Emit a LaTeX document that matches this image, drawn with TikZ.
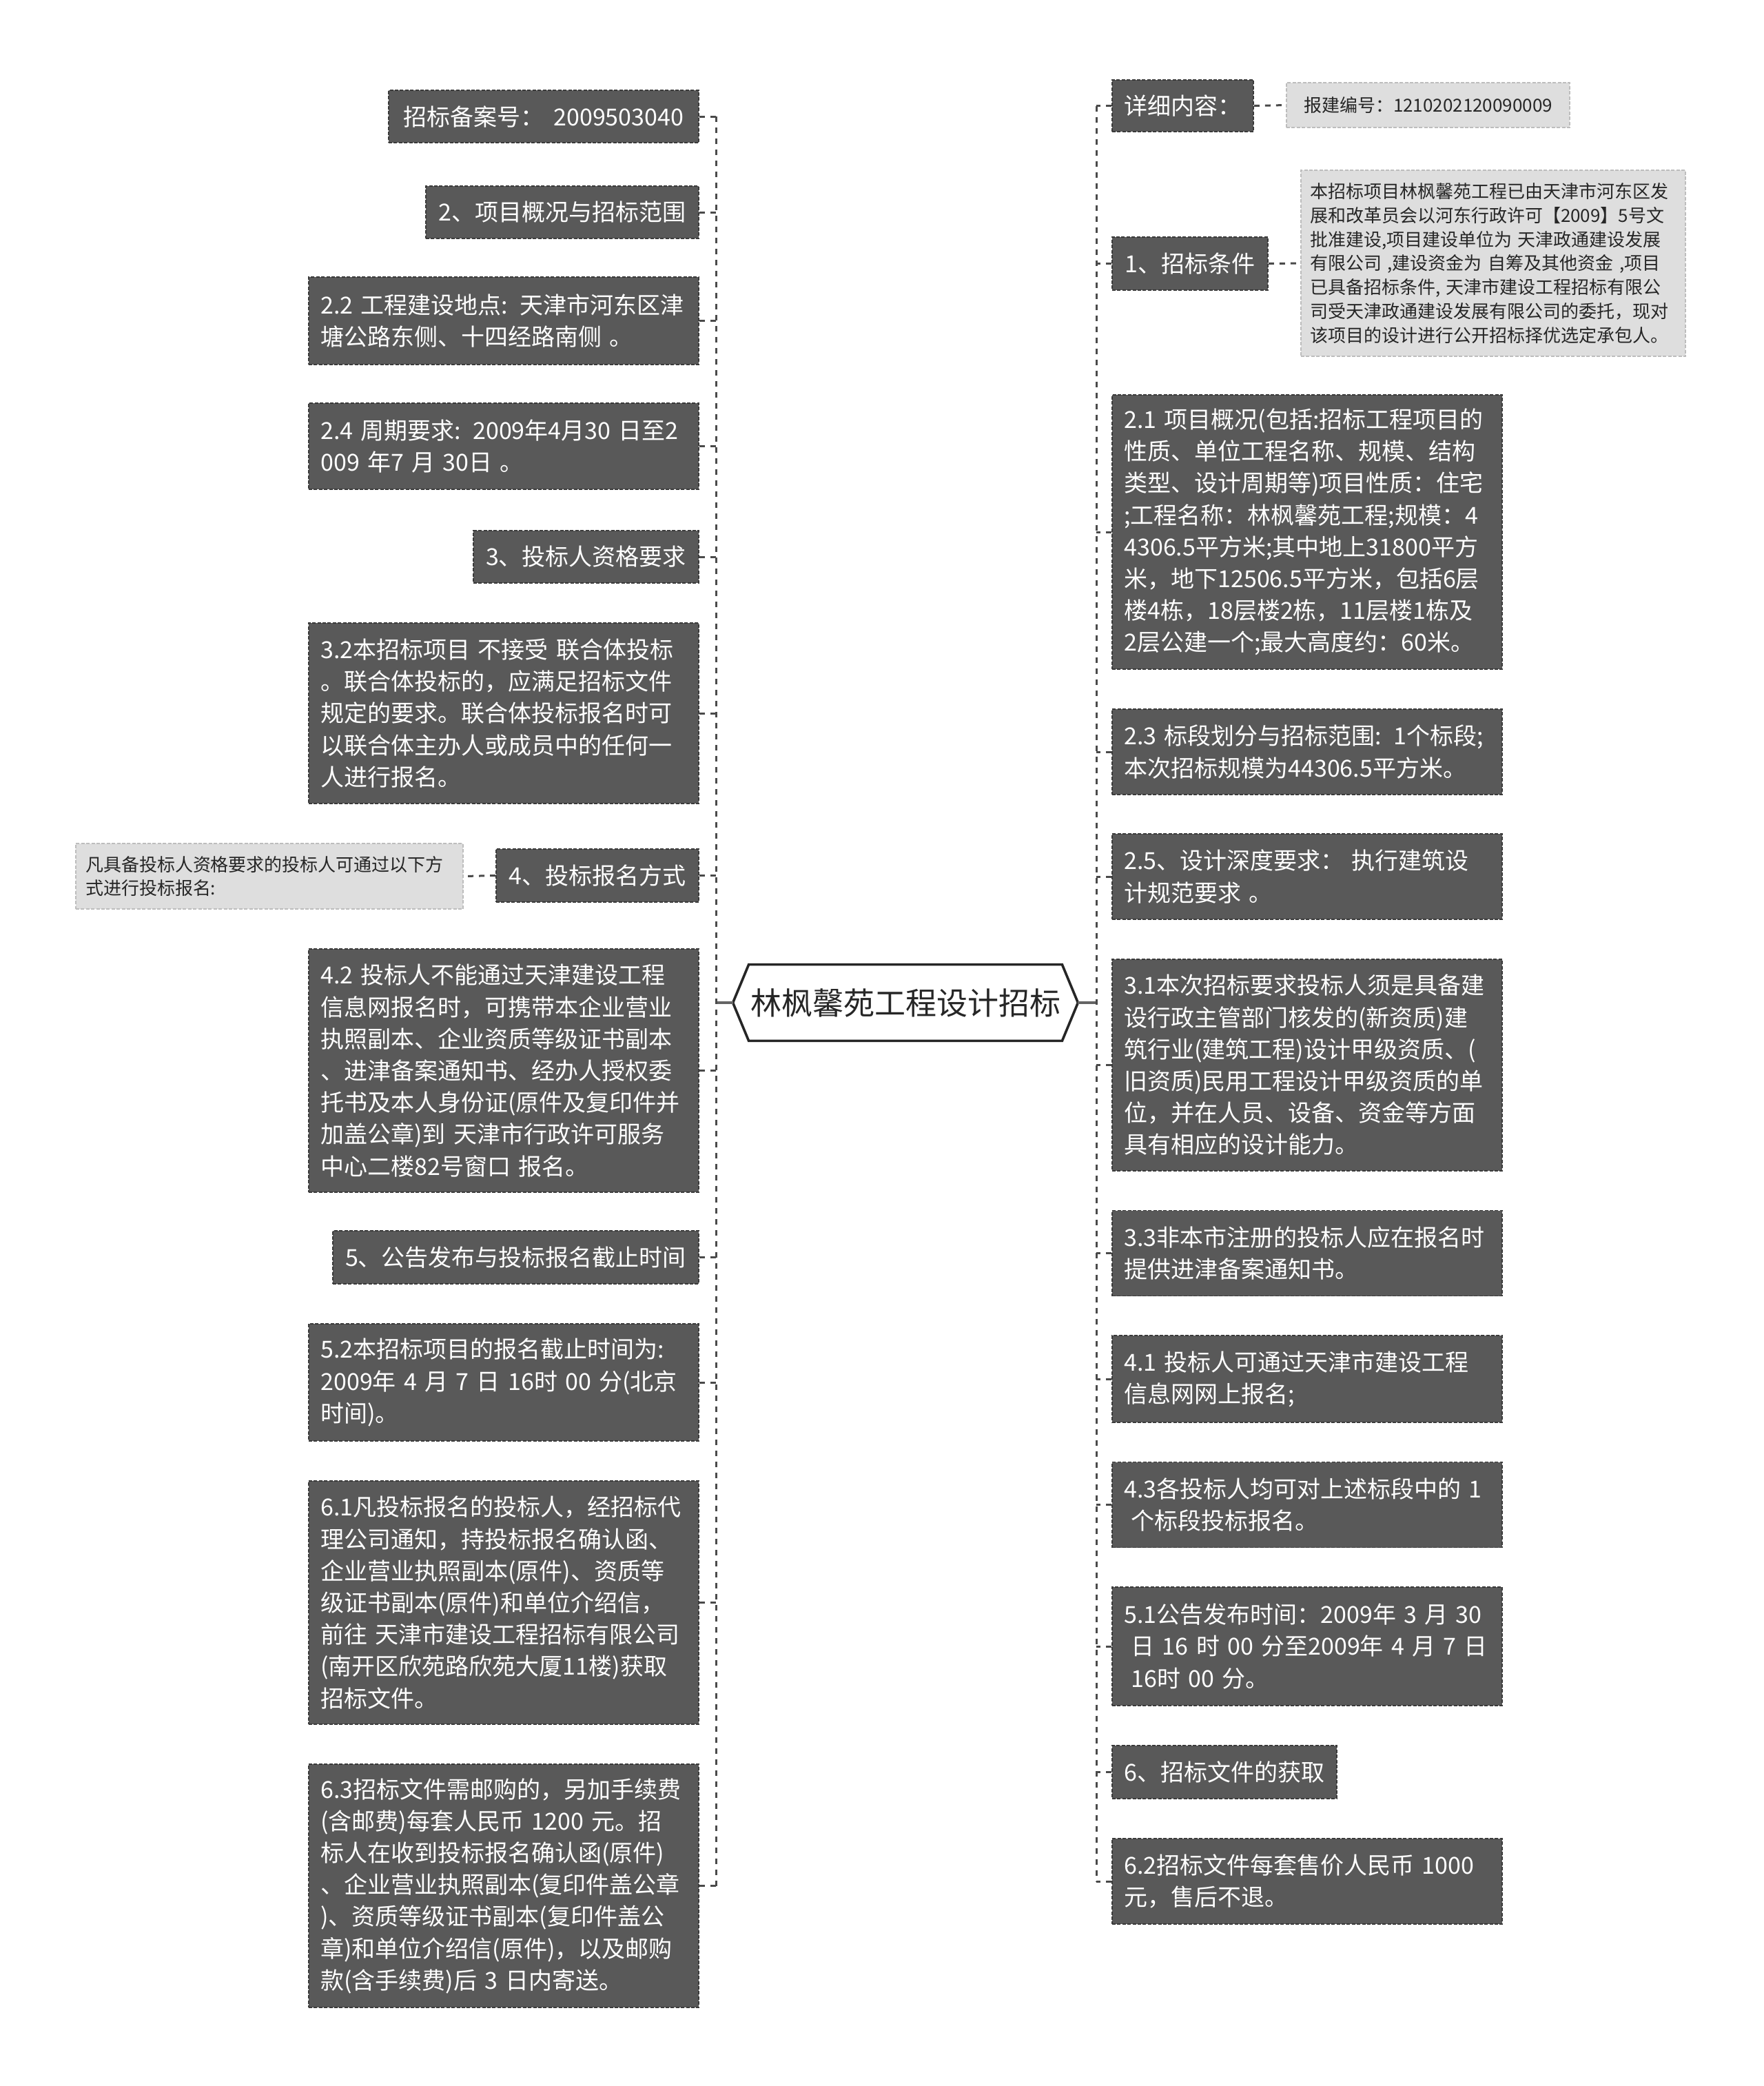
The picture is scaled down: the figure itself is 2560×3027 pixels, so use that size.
\documentclass[tikz,border=0pt]{standalone}
\usepackage{fontspec}
\setmainfont{Noto Sans CJK SC}
\usetikzlibrary{calc}
\definecolor{dkfill}{HTML}{595959}
\definecolor{dkline}{HTML}{3A3A3A}
\definecolor{ltfill}{HTML}{DEDEDE}
\definecolor{ltline}{HTML}{BDBDBD}
\definecolor{conncol}{HTML}{4A4A4A}
\newcommand\fsMain{\fontsize{17}{23.1}\selectfont}
\newcommand\fsSmall{\fontsize{13}{17.4}\selectfont}
\newcommand\fsTitle{\fontsize{22.5}{27}\selectfont}
\begin{document}
\begin{tikzpicture}[x=0.5pt,y=-0.5pt,
 dk/.style={rectangle, inner xsep=0pt, inner ysep=0pt, fill=dkfill, draw=dkline, line width=0.9pt, dash pattern=on 2.5pt off 1.2pt, text=white, font=\fsMain},
 wide/.style={dk, minimum width=283pt, text width=265.6pt, inner xsep=8.7pt, align=left},
 lt/.style={rectangle, inner xsep=0pt, inner ysep=0pt, fill=ltfill, draw=ltline, line width=0.8pt, dash pattern=on 2.5pt off 1.2pt, text=black!85, font=\fsSmall},
 cn/.style={draw=conncol, line width=1.5pt, dash pattern=on 4pt off 4pt},
 cs/.style={draw=conncol!85, line width=1.6pt},
]
\fill[white] (0,0) rectangle (2560,3027);
\useasboundingbox (0,0) rectangle (2560,3027);

% centre
\node[rectangle, minimum width=227pt, minimum height=55pt, inner sep=0pt, font=\fsTitle, text=black!85] (C) at (1314,1455) {林枫馨苑工程设计招标};
\coordinate (CL) at ($(C.west)+(-23,0)$);
\coordinate (CR) at ($(C.east)+(23,0)$);
\draw[line width=1.8pt, line join=miter, draw=black!85] (C.north west) -- (C.north east) -- (CR) -- (C.south east) -- (C.south west) -- (CL) -- cycle;
\coordinate (TL) at (1039,1455);
\coordinate (TR) at (1591,1455);

% left
\node[dk, minimum width=225pt, minimum height=38pt] (L1) at (789,169) {招标备案号：\hspace{0.4em}2009503040};
\node[dk, minimum width=198pt, minimum height=38pt] (L2) at (816,308) {2、项目概况与招标范围};
\node[wide, minimum height=63.5pt] (L3) at (731,465.5) {2.2 工程建设地点: 天津市河东区津\\塘公路东侧、十四经路南侧 。};
\node[wide, minimum height=62.5pt] (L4) at (731,647.5) {2.4 周期要求: 2009年4月30 日至2\\009 年7 月 30日 。};
\node[dk, minimum width=163.5pt, minimum height=38pt] (L5) at (850.5,808) {3、投标人资格要求};
\node[wide, minimum height=131pt] (L6) at (731,1035) {3.2本招标项目 不接受 联合体投标\\。联合体投标的，应满足招标文件\\规定的要求。联合体投标报名时可\\以联合体主办人或成员中的任何一\\人进行报名。};
\node[dk, minimum width=147pt, minimum height=38.5pt] (L7) at (867,1270.5) {4、投标报名方式};
\node[lt, minimum width=281pt, minimum height=47.5pt, text width=267pt, inner xsep=7pt, align=left] (G3) at (391,1271.5) {凡具备投标人资格要求的投标人可通过以下方\\式进行投标报名:};
\node[wide, minimum height=176.5pt] (L8) at (731,1553.5) {4.2 投标人不能通过天津建设工程\\信息网报名时，可携带本企业营业\\执照副本、企业资质等级证书副本\\、进津备案通知书、经办人授权委\\托书及本人身份证(原件及复印件并\\加盖公章)到 天津市行政许可服务\\中心二楼82号窗口 报名。};
\node[dk, minimum width=265.5pt, minimum height=38.5pt] (L9) at (748.5,1824.5) {5、公告发布与投标报名截止时间};
\node[wide, minimum height=85pt] (L10) at (731,2006) {5.2本招标项目的报名截止时间为:\\2009年 4 月 7 日 16时 00 分(北京\\时间)。};
\node[wide, minimum height=176.5pt] (L11) at (731,2325.5) {6.1凡投标报名的投标人，经招标代\\理公司通知，持投标报名确认函、\\企业营业执照副本(原件)、资质等\\级证书副本(原件)和单位介绍信，\\前往 天津市建设工程招标有限公司\\(南开区欣苑路欣苑大厦11楼)获取\\招标文件。};
\node[wide, minimum height=176.5pt] (L12) at (731,2736.5) {6.3招标文件需邮购的，另加手续费\\(含邮费)每套人民币 1200 元。招\\标人在收到投标报名确认函(原件)\\、企业营业执照副本(复印件盖公章\\)、资质等级证书副本(复印件盖公\\章)和单位介绍信(原件)，以及邮购\\款(含手续费)后 3 日内寄送。};

% right
\node[dk, minimum width=102.5pt, minimum height=37.5pt] (R1) at (1716.5,153.5) {详细内容：};
\node[lt, minimum width=205.5pt, minimum height=32.5pt] (G1) at (2072.5,152.5) {报建编号：1210202120090009};
\node[dk, minimum width=113pt, minimum height=38.5pt] (R2) at (1727,382.5) {1、招标条件};
\node[lt, minimum width=279pt, minimum height=135pt, text width=266pt, inner xsep=6.5pt, align=left] (G2) at (2167,382) {本招标项目林枫馨苑工程已由天津市河东区发\\展和改革员会以河东行政许可【2009】5号文\\批准建设,项目建设单位为 天津政通建设发展\\有限公司 ,建设资金为 自筹及其他资金 ,项目\\已具备招标条件, 天津市建设工程招标有限公\\司受天津政通建设发展有限公司的委托，现对\\该项目的设计进行公开招标择优选定承包人。};
\node[wide, minimum height=199pt] (R3) at (1897,772) {2.1 项目概况(包括:招标工程项目的\\性质、单位工程名称、规模、结构\\类型、设计周期等)项目性质：住宅\\;工程名称：林枫馨苑工程;规模：4\\4306.5平方米;其中地上31800平方\\米，地下12506.5平方米，包括6层\\楼4栋，18层楼2栋，11层楼1栋及\\2层公建一个;最大高度约：60米。};
\node[wide, minimum height=62pt] (R4) at (1897,1091) {2.3 标段划分与招标范围: 1个标段;\\本次招标规模为44306.5平方米。};
\node[wide, minimum height=62pt] (R5) at (1897,1272) {2.5、设计深度要求： 执行建筑设\\计规范要求 。};
\node[wide, minimum height=153.5pt] (R6) at (1897,1545.5) {3.1本次招标要求投标人须是具备建\\设行政主管部门核发的(新资质)建\\筑行业(建筑工程)设计甲级资质、(\\旧资质)民用工程设计甲级资质的单\\位，并在人员、设备、资金等方面\\具有相应的设计能力。};
\node[wide, minimum height=62pt] (R7) at (1897,1818.5) {3.3非本市注册的投标人应在报名时\\提供进津备案通知书。};
\node[wide, minimum height=63pt] (R8) at (1897,2001) {4.1 投标人可通过天津市建设工程\\信息网网上报名;};
\node[wide, minimum height=62pt] (R9) at (1897,2183.5) {4.3各投标人均可对上述标段中的 1\\\hspace*{0.3em}个标段投标报名。};
\node[wide, minimum height=86pt] (R10) at (1897,2389) {5.1公告发布时间：2009年 3 月 30\\\hspace*{0.3em}日 16 时 00 分至2009年 4 月 7 日\\\hspace*{0.3em}16时 00 分。};
\node[dk, minimum width=163pt, minimum height=38.5pt] (R11) at (1777,2571.5) {6、招标文件的获取};
\node[wide, minimum height=62pt] (R12) at (1897,2730) {6.2招标文件每套售价人民币 1000\\元，售后不退。};

% connectors
\draw[cs] (CL) -- (TL);
\draw[cs] (CR) -- (TR);
\draw[cn] (L1.east -| TL) -- (L12.east -| TL);
\draw[cn] (R1.west -| TR) -- (R12.west -| TR);
\foreach \n in {L1,L2,L3,L4,L5,L6,L7,L8,L9,L10,L11,L12}
  \draw[cn] (\n.east) -- (\n.east -| TL);
\foreach \n in {R1,R2,R3,R4,R5,R6,R7,R8,R9,R10,R11,R12}
  \draw[cn] (\n.west) -- (\n.west -| TR);
\draw[cn] (R1.east) -- (G1.west);
\draw[cn] (R2.east) -- (G2.west);
\draw[cn] (L7.west) -- (G3.east);
\end{tikzpicture}
\end{document}
